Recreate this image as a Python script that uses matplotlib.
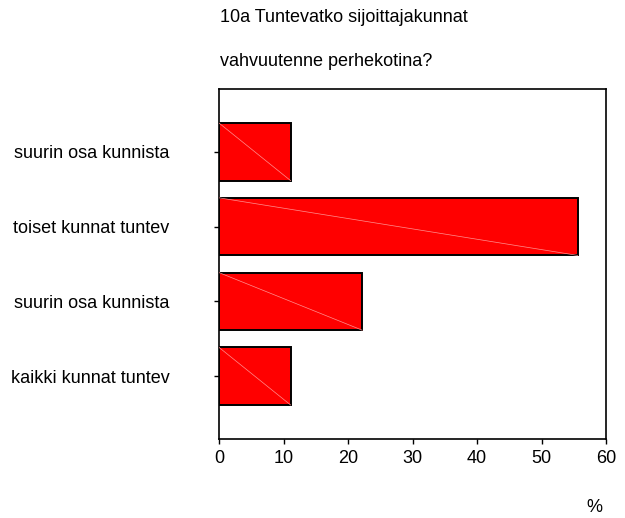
import matplotlib

matplotlib.use("Agg")
import matplotlib.pyplot as plt
import numpy as np

# data (bottom to top)
kategoriat = ["kaikki kunnat tuntev", "suurin osa kunnista",
              "toiset kunnat tuntev", "suurin osa kunnista"]
prosentit = [11.1, 22.2, 55.6, 11.1]
otsikko = ["10a Tuntevatko sijoittajakunnat", "vahvuutenne perhekotina?"]
x_tiks = [0, 10, 20, 30, 40, 50, 60]

plt.rcParams["font.family"] = ["Liberation Sans", "DejaVu Sans"]
fs = 13

fig = plt.figure(figsize=(6.25, 5.18), dpi=100)
ax = fig.add_axes([219 / 625, 1 - 439 / 518, 387 / 625, 350 / 518])

y = np.arange(len(kategoriat))
korkeus = 0.77
ax.barh(y, prosentit, height=korkeus, color="#ff0000", edgecolor="black",
        linewidth=1.4, zorder=2)
# vaalea diagonaaliviiva palkin sisällä
for yi, v in zip(y, prosentit):
    ax.plot([0, v], [yi + korkeus / 2, yi - korkeus / 2], color="#ff9090",
            linewidth=0.5, zorder=3)

ax.set_xlim(0, 60)
ax.set_ylim(-0.84, len(kategoriat) - 1 + 0.84)
ax.set_xticks(x_tiks)
ax.set_xticklabels([str(t) for t in x_tiks], fontsize=fs)
ax.set_yticks(y)
ax.set_yticklabels(kategoriat, fontsize=fs)
ax.tick_params(axis="y", length=3.6, width=1, pad=32)
ax.tick_params(axis="x", length=3.6, width=1, pad=4)
for s in ax.spines.values():
    s.set_linewidth(1.2)

fig.text(220 / 625, 1 - 18 / 518, otsikko[0], fontsize=fs, va="center", ha="left")
fig.text(220 / 625, 1 - 62 / 518, otsikko[1], fontsize=fs, va="center", ha="left")
fig.text(594 / 625, 1 - 507 / 518, "%", fontsize=fs, va="center", ha="center")

fig.savefig("out.png", dpi=100)
